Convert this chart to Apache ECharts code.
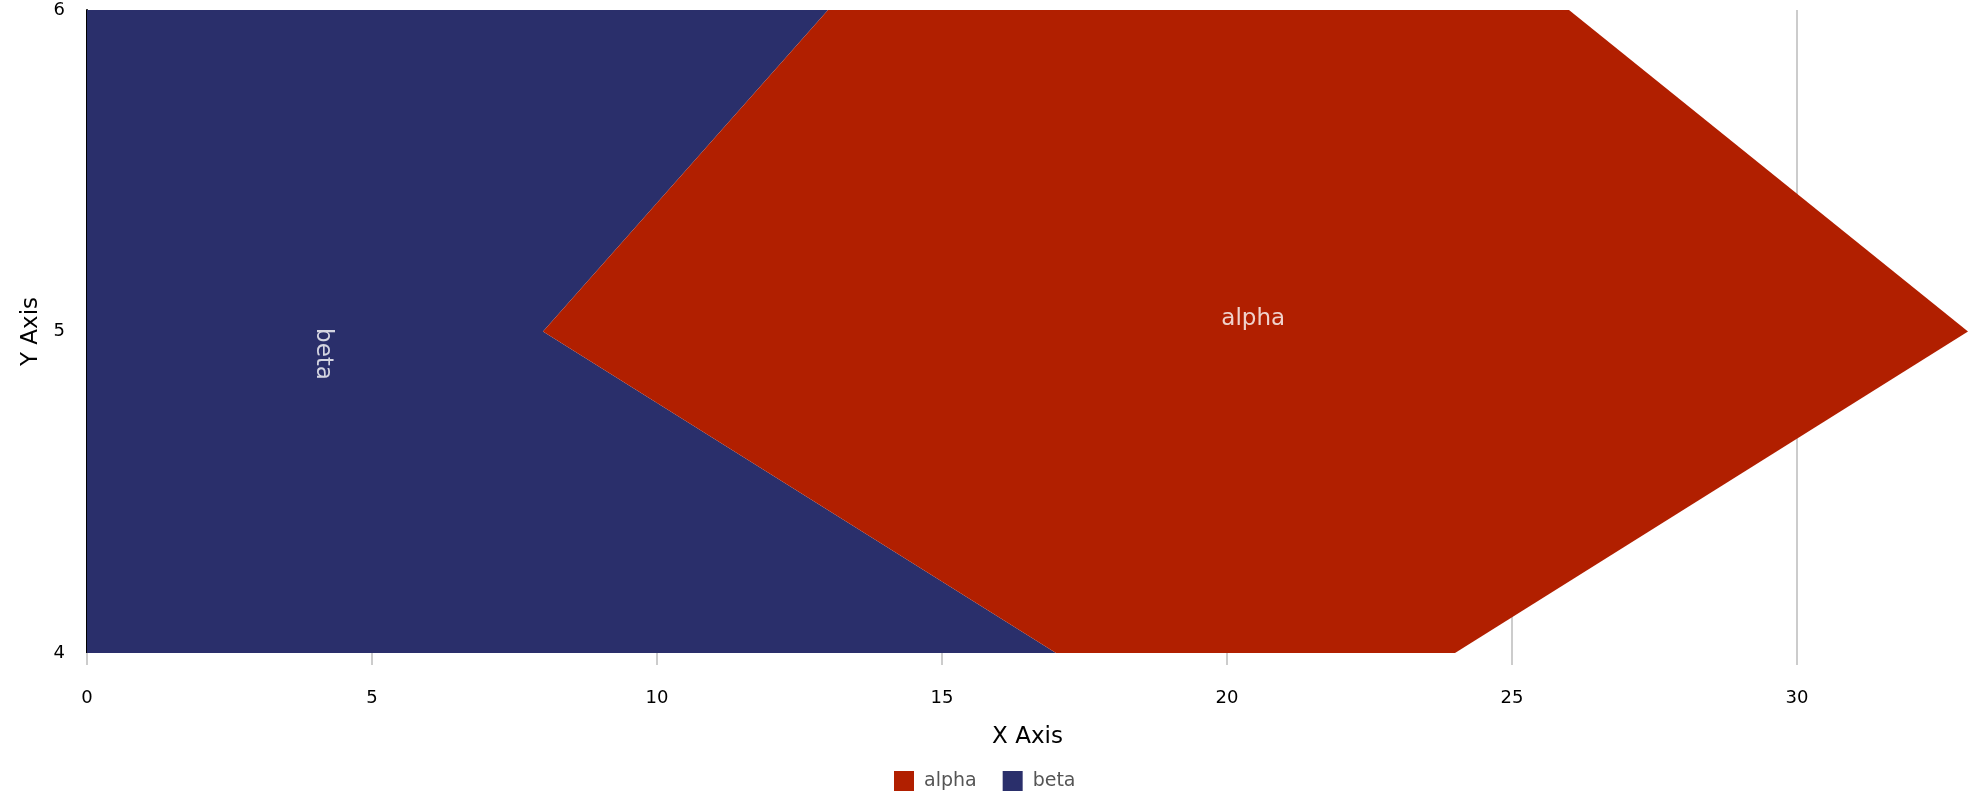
<!DOCTYPE html>
<html>
<head>
<meta charset="utf-8">
<script src="https://cdn.jsdelivr.net/npm/echarts@6/dist/echarts.min.js"></script>
<style>
  html, body { margin: 0; padding: 0; background: #fff; }
  #chart-container { width: 1980px; height: 800px; }
</style>
</head>
<body>
<div id="chart-container"></div>
<script>
// categories on the y axis (bottom to top)
const yCategories = ['4', '5', '6'];
// x ticks shown under the plot
const xTicks = [0, 5, 10, 15, 20, 25, 30];
// x extent of each band at y = 4, 5, 6 (stacked: beta first, alpha on top)
const betaValues = [17, 8, 13];
const alphaValues = [7, 25, 13];
const legendNames = ['alpha', 'beta'];
// where the in-chart names sit, in data units
const betaLabelPos = [4.14, 4.93];
const alphaLabelPos = [20.46, 5.04];

const alphaColor = '#b11f00';
const betaColor = '#2a2f6b';
const font = 'DejaVu Sans, Verdana, sans-serif';

var dom = document.getElementById('chart-container');
var myChart = echarts.init(dom, null, { renderer: 'canvas' });

var option = {
    animation: false,
    textStyle: { fontFamily: font },
    color: [alphaColor, betaColor],
    grid: { left: 87, right: 12, top: 10, bottom: 147 },
    legend: {
        data: legendNames,
        bottom: 4,
        left: 889,
        icon: 'rect',
        itemWidth: 20,
        itemHeight: 20,
        itemGap: 26,
        textStyle: { color: '#555', fontSize: 19, fontFamily: font, padding: [0, 0, 0, 5] }
    },
    xAxis: [{
            type: 'value',
            position: 'bottom',
            min: 0,
            max: 33,
            interval: 5,
            name: 'X Axis',
            nameLocation: 'middle',
            nameGap: 73,
            nameTextStyle: { color: '#000', fontSize: 23, fontFamily: font },
            axisLine: { show: false },
            axisTick: { show: false },
            axisLabel: { color: '#000', fontSize: 18, margin: 36, fontFamily: font, showMaxLabel: false },
            splitLine: { show: true, showMaxLine: false, lineStyle: { color: '#ccc', width: 2 } }
        },
        {
            // tick marks only, without the one at the axis end
            type: 'value',
            position: 'bottom',
            min: 0,
            max: 33,
            axisLine: { show: false },
            axisLabel: { show: false },
            splitLine: { show: false },
            axisTick: { show: true, length: 12, customValues: xTicks, lineStyle: { color: '#ccc', width: 2 } }
        }
    ],
    yAxis: [{
            type: 'category',
            data: yCategories,
            boundaryGap: false,
            name: 'Y Axis',
            nameLocation: 'middle',
            nameGap: 36,
            nameTextStyle: { color: '#000', fontSize: 23, fontFamily: font },
            axisLine: { show: true, lineStyle: { color: '#000', width: 2 } },
            axisTick: { show: false },
            axisLabel: { color: '#000', fontSize: 18, margin: 22, fontFamily: font },
            splitLine: { show: false }
        },
        {
            type: 'value',
            min: 4,
            max: 6,
            show: false
        }
    ],
    series: [{
            name: 'beta',
            type: 'line',
            stack: 'total',
            data: betaValues,
            symbol: 'none',
            lineStyle: { width: 0 },
            areaStyle: { color: betaColor, opacity: 1 },
            itemStyle: { color: betaColor },
            z: 2
        },
        {
            name: 'alpha',
            type: 'line',
            stack: 'total',
            data: alphaValues,
            symbol: 'none',
            lineStyle: { width: 0 },
            areaStyle: { color: alphaColor, opacity: 1 },
            itemStyle: { color: alphaColor },
            z: 2
        },
        {
            name: 'beta-label',
            type: 'scatter',
            yAxisIndex: 1,
            silent: true,
            symbolSize: 0,
            data: [betaLabelPos],
            label: {
                show: true,
                position: 'inside',
                rotate: -90,
                formatter: 'beta',
                color: '#fff',
                fontSize: 23,
                fontFamily: font
            },
            z: 5
        },
        {
            name: 'alpha-label',
            type: 'scatter',
            yAxisIndex: 1,
            silent: true,
            symbolSize: 0,
            data: [alphaLabelPos],
            label: {
                show: true,
                position: 'inside',
                formatter: 'alpha',
                color: '#fff',
                fontSize: 23,
                fontFamily: font
            },
            z: 5
        }
    ]
};

myChart.setOption(option);
</script>
</body>
</html>
